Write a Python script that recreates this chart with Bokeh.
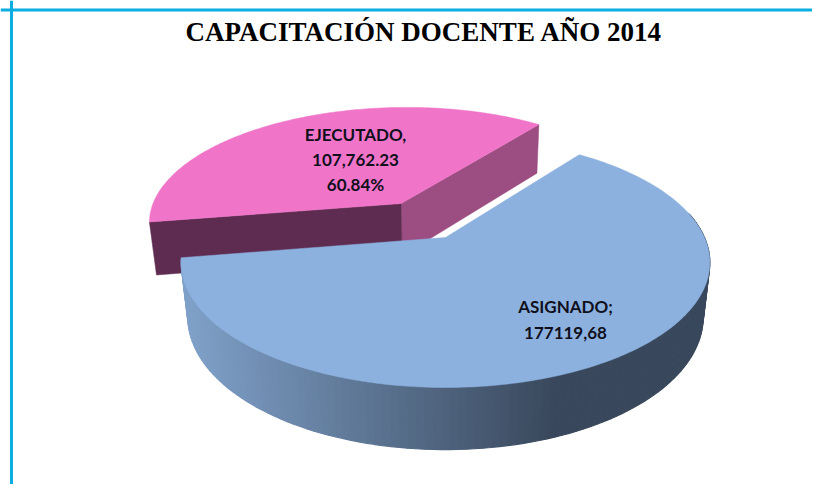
import numpy as np
from bokeh.core.properties import value
from bokeh.embed import file_html
from bokeh.models import Range1d, Span
from bokeh.plotting import figure
from bokeh.resources import INLINE

# ---- data ----
categories = ["ASIGNADO", "EJECUTADO"]
amounts = [177119.68, 107762.23]
title_text = "CAPACITACIÓN DOCENTE AÑO 2014"
label_asignado = ["ASIGNADO;", "177119,68"]
label_ejecutado = ["EJECUTADO,", "107,762.23", "60.84%"]

# ---- style / layout ----
W, H = 812, 484
BORDER = "#0CAEE2"
BLUE_TOP = "#8CB1DF"
PINK_TOP = "#F075C9"
PINK_CUT_RIGHT = "#9C4D81"
PINK_CUT_LEFT = "#5F2C51"
SIDE_LIGHT = np.array([0x7F, 0xA0, 0xC8])
SIDE_DARK = np.array([0x39, 0x48, 0x5C])
GRAD_X0, GRAD_X1 = 186, 555

CX, CY = 445.0, 237.0       # projected pie centre
A, B = 259.0, 120.0         # projected radii
K_BLUE, K_PINK = 0.2, 0.15  # perspective of each slice
M, C = 0.025, 55.0          # depth shrink, depth drop
FIRST_ANGLE = 36.8          # clockwise from the far side
RIM_FROM = 78.0             # rim hidden behind the top face before this angle
EXPLODE = 0.345


def project(u, v, h=0.0, k=K_BLUE):
    w = 1 - k * v + M * h
    return CX + A * u / w, CY + (B * v + C * h) / w


def arc(start, end, n=200):
    t = np.radians(np.linspace(start, end, n))
    return np.sin(t), -np.cos(t)


p = figure(width=W, height=H, output_backend="svg", toolbar_location=None,
           x_range=Range1d(0, W), y_range=Range1d(H, 0),
           min_border=0, outline_line_color=None, background_fill_color="white")
p.axis.visible = False
p.grid.visible = False

for loc, dim in ((9.5, "width"), (11.0, "height")):
    p.add_layout(Span(location=loc, dimension=dim, line_color=BORDER, line_width=3))

shares = np.array(amounts) / sum(amounts) * 360.0
blue_start = FIRST_ANGLE
blue_end = blue_start + shares[0]
pink_start = blue_end
pink_end = pink_start + shares[1]

# exploded slice: EJECUTADO
mid = np.radians((pink_start + pink_end) / 2)
du, dv = EXPLODE * np.sin(mid), -EXPLODE * np.cos(mid)
au, av = arc(pink_start, pink_end)
au, av = au + du, av + dv

# cut faces of the exploded slice
for (eu, ev), col in (((au[-1], av[-1]), PINK_CUT_RIGHT), ((au[0], av[0]), PINK_CUT_LEFT)):
    x0, y0 = project(du, dv, k=K_PINK)
    x1, y1 = project(eu, ev, k=K_PINK)
    x2, y2 = project(eu, ev, 1.0, k=K_PINK)
    x3, y3 = project(du, dv, 1.0, k=K_PINK)
    p.patch([x0, x1, x2, x3], [y0, y1, y2, y3], fill_color=col, line_color=col, line_width=0.5)

x_top, y_top = project(np.r_[du, au], np.r_[dv, av], k=K_PINK)
p.patch(x_top, y_top, fill_color=PINK_TOP, line_color=PINK_TOP, line_width=0.5)

# ASIGNADO: shaded rim, far to near
rim_from = max(blue_start, RIM_FROM)
bu, bv = arc(rim_from, blue_end, 120)
xt, yt = project(bu, bv)
xb, yb = project(bu, bv, 1.0)
xs, ys, cols = [], [], []
for i in range(len(bu) - 1):
    xm = (xt[i] + xt[i + 1]) / 2
    f = np.clip((xm - GRAD_X0) / (GRAD_X1 - GRAD_X0), 0, 1)
    c = (1 - f) * SIDE_LIGHT + f * SIDE_DARK
    xs.append([xt[i], xt[i + 1], xb[i + 1], xb[i]])
    ys.append([yt[i], yt[i + 1], yb[i + 1], yb[i]])
    cols.append("#%02x%02x%02x" % tuple(int(round(q)) for q in c))
p.patches(xs, ys, fill_color=cols, line_color=cols, line_width=1.2)

bu, bv = arc(blue_start, blue_end, 240)
x_top, y_top = project(np.r_[0.0, bu], np.r_[0.0, bv])
p.patch(x_top, y_top, fill_color=BLUE_TOP, line_color=BLUE_TOP, line_width=0.5)

# texts
p.text([423.5], [31], text=[title_text], text_font=value("Liberation Serif"),
       text_font_style="bold", text_font_size="27px", text_color="#000000",
       text_align="center", text_baseline="middle")
p.text([355] * 3, [134, 159, 184], text=label_ejecutado, text_font=value("Lato"),
       text_font_style="bold", text_font_size="17px", text_color="#10101c",
       text_align="center", text_baseline="middle")
p.text([565] * 2, [306, 332], text=label_asignado, text_font=value("Lato"),
       text_font_style="bold", text_font_size="17px", text_color="#10101c",
       text_align="center", text_baseline="middle")

open("out.html", "w").write(file_html(p, INLINE))
